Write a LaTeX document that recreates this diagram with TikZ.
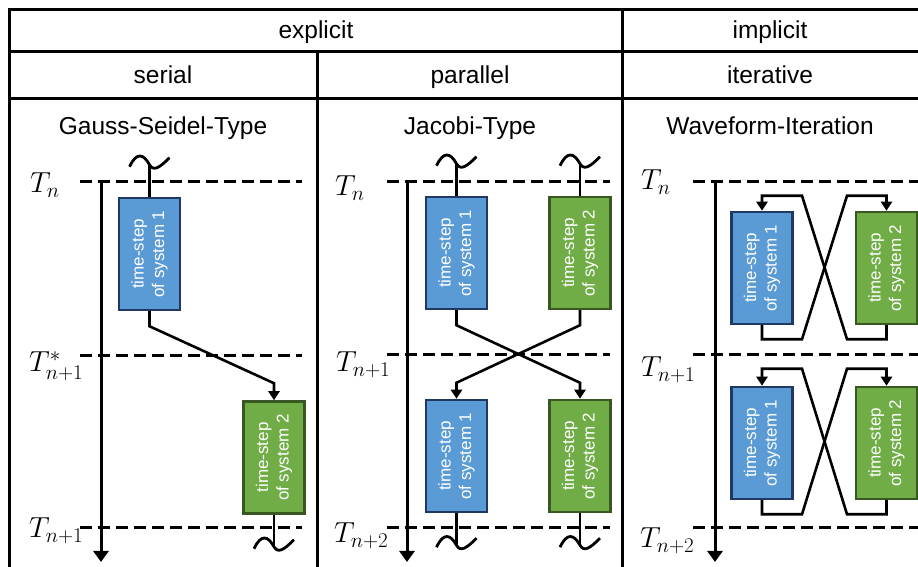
\RequirePackage{fix-cm}
\documentclass[tikz,border=0pt]{standalone}
\usepackage{fontspec}
\setsansfont{Liberation Sans}
\usetikzlibrary{arrows.meta, calc}
\definecolor{sysblue}{RGB}{91,155,213}
\definecolor{sysbluedark}{RGB}{32,56,100}
\definecolor{sysgreen}{RGB}{112,173,71}
\definecolor{sysgreendark}{RGB}{56,87,35}
\DeclareMathSizes{29}{29}{21}{16}

\tikzset{
    squiggle/.pic={\draw[line width=2.8pt] (-20,-2) .. controls (-13,13) and (-6,11) .. (0,0) .. controls (4,-7) and (10,-3) .. (20,7);}
}

\begin{document}
\begin{tikzpicture}[
    x=1pt, y=1pt,
    grid/.style={line width=3pt},
    head/.style={font=\sffamily\fontsize{24.5}{28}\selectfont, inner sep=0pt, text height=17.5pt, text depth=5pt},
    level/.style={line width=3pt, dash pattern=on 12pt off 6pt},
    tlab/.style={anchor=base west, inner sep=0pt, font=\fontsize{29}{32}\selectfont},
    axis/.style={line width=3pt, -{Triangle[width=15pt,length=11pt]}},
    conn/.style={line width=2.6pt},
    arrow/.style={conn, -{Triangle[width=11pt,length=9pt]}},
    tstep/.style={draw, line width=2.5pt, minimum width=61pt, minimum height=112pt, inner sep=0pt},
    boxtext/.style={rotate=90, text=white, align=center, font=\sffamily\fontsize{17}{20.5}\selectfont},
    sysone/.style={tstep, fill=sysblue, draw=sysbluedark, label={[boxtext]center:time-step\\of system 1}},
    systwo/.style={tstep, fill=sysgreen, draw=sysgreendark, label={[boxtext]center:time-step\\of system 2}},
]
\useasboundingbox (0,0) rectangle (918,567);

% table frame
\draw[grid] (9.5,0) -- (9.5,557) -- (918,557);
\draw[grid] (9.5,515) -- (918,515);
\draw[grid] (9.5,468.5) -- (918,468.5);
\draw[grid] (317,515) -- (317,0);
\draw[grid] (622,557) -- (622,0);

% headings
\node[head] (expl) at (316,535) {explicit};
\node[head] (impl) at (770,535) {implicit};
\node[head] (ser) at (163,490) {serial};
\node[head] (par) at (470,490) {parallel};
\node[head] (itr) at (770,490) {iterative};
\node[head] (gst) at (163,439) {Gauss-Seidel-Type};
\node[head] (jct) at (470,439) {Jacobi-Type};
\node[head] (wft) at (770,439) {Waveform-Iteration};

% time levels
\draw[level] (80,385) -- (302,385);
\draw[level] (80,211) -- (302,211);
\draw[level] (80,39) -- (302,39);
\draw[level] (387,385) -- (610,385);
\draw[level] (387,212) -- (610,212);
\draw[level] (387,39) -- (610,39);
\draw[level] (693,385) -- (918,385);
\draw[level] (693,212) -- (918,212);
\draw[level] (693,39) -- (918,39);

\node[tlab] (gsTa) at (30,374) {$T_n$};
\node[tlab] (gsTb) at (29,195) {$T^*_{n+1}$};
\node[tlab] (gsTc) at (29,29) {$T_{n+1}$};
\node[tlab] (jcTa) at (335,371) {$T_n$};
\node[tlab] (jcTb) at (336,195) {$T_{n+1}$};
\node[tlab] (jcTc) at (334,24) {$T_{n+2}$};
\node[tlab] (wfTa) at (641,377) {$T_n$};
\node[tlab] (wfTb) at (641,190) {$T_{n+1}$};
\node[tlab] (wfTc) at (640,19) {$T_{n+2}$};

% time axes
\coordinate (gsAx) at (101,385);
\coordinate (jcAx) at (407,385);
\coordinate (wfAx) at (715,385);
\draw[axis] (gsAx) -- ++(0,-380);
\draw[axis] (jcAx) -- ++(0,-380);
\draw[axis] (wfAx) -- ++(0,-380);

% Gauss-Seidel
\node[sysone] (gs1) at (149.5,313) {};
\node[systwo] (gs2) at (274,109.5) {};
\draw[arrow] (gs1.south) -- ++(0,-15) -- ($(gs2.north)+(0,17)$) -- (gs2.north);

% Jacobi
\node[sysone] (jc1) at (456.5,314) {};
\node[systwo] (jc2) at (580,314) {};
\node[sysone] (jc3) at (456.5,111) {};
\node[systwo] (jc4) at (580,111) {};
\draw[arrow] (jc1.south) -- ++(0,-15) -- ($(jc4.north)+(0,16)$) -- (jc4.north);
\draw[arrow] (jc2.south) -- ++(0,-15) -- ($(jc3.north)+(0,16)$) -- (jc3.north);

% Waveform iteration
\node[sysone] (wf1) at (762,299) {};
\node[systwo] (wf2) at (886.5,299) {};
\node[sysone] (wf3) at (762,124) {};
\node[systwo] (wf4) at (886.5,124) {};
\draw[arrow] (wf1.south) -- ++(0,-14) -- ++(40,0) -- ($(wf2.north)+(-39.5,15)$) -- ($(wf2.north)+(0,15)$) -- (wf2.north);
\draw[arrow] (wf2.south) -- ++(0,-14) -- ++(-39.5,0) -- ($(wf1.north)+(40,15)$) -- ($(wf1.north)+(0,15)$) -- (wf1.north);
\draw[arrow] (wf3.south) -- ++(0,-14) -- ++(40,0) -- ($(wf4.north)+(-39.5,17)$) -- ($(wf4.north)+(0,17)$) -- (wf4.north);
\draw[arrow] (wf4.south) -- ++(0,-14) -- ++(-39.5,0) -- ($(wf3.north)+(40,17)$) -- ($(wf3.north)+(0,17)$) -- (wf3.north);

% open ends
\path (gs1.north) ++(0,32) coordinate (gs1in);
\path (jc1.north) ++(0,32) coordinate (jc1in);
\path (jc2.north) ++(0,32) coordinate (jc2in);
\path (gs2.south) ++(0,-32) coordinate (gs2out);
\path (jc3.south) ++(0,-32) coordinate (jc3out);
\path (jc4.south) ++(0,-32) coordinate (jc4out);
\draw[conn] (gs1.north) -- (gs1in);
\draw[conn] (jc1.north) -- (jc1in);
\draw[conn] (jc2.north) -- (jc2in);
\draw[conn] (gs2.south) -- (gs2out);
\draw[conn] (jc3.south) -- (jc3out);
\draw[conn] (jc4.south) -- (jc4out);
\pic at (gs1in) {squiggle};
\pic at (jc1in) {squiggle};
\pic at (jc2in) {squiggle};
\pic at (gs2out) {squiggle};
\pic at (jc3out) {squiggle};
\pic at (jc4out) {squiggle};

\end{tikzpicture}
\end{document}
